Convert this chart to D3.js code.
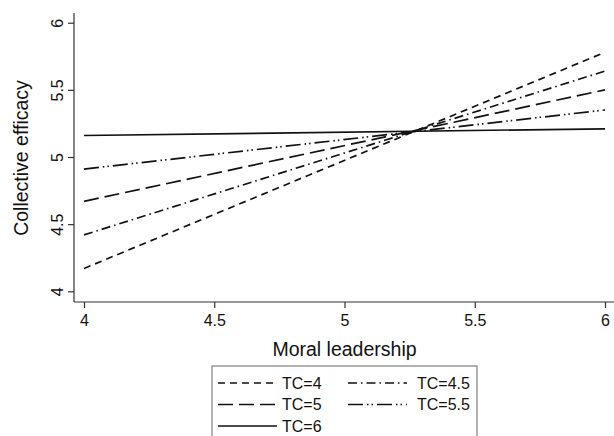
<!DOCTYPE html>
<html><head><meta charset="utf-8">
<script src="https://cdn.jsdelivr.net/npm/d3@7"></script>
<style>body{margin:0;background:#fff}svg{display:block}text{font-family:"Liberation Sans",Arial,sans-serif;fill:#111}</style>
</head><body>
<script>
const series = ["TC=4","TC=4.5","TC=5","TC=5.5","TC=6"];
const xValues = [4, 6];
const yAt4 = [4.17, 4.42, 4.67, 4.91, 5.16];
const yAt6 = [5.78, 5.64, 5.50, 5.35, 5.21];
const xTicks = [4, 4.5, 5, 5.5, 6];
const yTicks = [4, 4.5, 5, 5.5, 6];
const dashes = ["7,5", "9,4,1.5,4", "15,6", "15,4,1.5,3,1.5,4", null];

const W = 614, H = 436;
const svg = d3.select("body").append("svg").attr("width", W).attr("height", H);
const x = d3.scaleLinear().domain([4, 6]).range([84, 605]);
const y = d3.scaleLinear().domain([4, 6]).range([291.3, 22.7]);

// axes
const xAxis = svg.append("g").attr("transform", "translate(0,302)")
  .call(d3.axisBottom(x).tickValues(xTicks).tickFormat(d3.format("~g")).tickSizeOuter(0).tickSize(6).tickPadding(7));
xAxis.select(".domain").attr("d", "M74,0H614");
const yAxis = svg.append("g").attr("transform", "translate(74,0)")
  .call(d3.axisLeft(y).tickValues(yTicks).tickFormat(d3.format("~g")).tickSizeOuter(0).tickSize(6));
yAxis.select(".domain").attr("d", "M0,13V302");
[xAxis, yAxis].forEach(g => {
  g.attr("font-size", 16);
  g.selectAll(".domain").attr("stroke", "#333").attr("stroke-width", 1.2);
  g.selectAll(".tick line").attr("stroke", "#333").attr("stroke-width", 1.2);
  g.selectAll("text").attr("font-size", 16).attr("fill", "#111").style("font-family", '"Liberation Sans",Arial,sans-serif');
});
yAxis.selectAll(".tick text").attr("x", null).attr("dy", null)
  .attr("text-anchor", "middle").attr("transform", "translate(-17,0) rotate(-90)").attr("dy", "0.35em");

svg.append("text").attr("x", 344.5).attr("y", 356).attr("text-anchor", "middle").attr("font-size", 19.5).text("Moral leadership");
svg.append("text").attr("transform", "translate(21,158) rotate(-90)").attr("text-anchor", "middle").attr("dy", "0.35em").attr("font-size", 19.5).text("Collective efficacy");

// lines
const line = d3.line().x(d => x(d[0])).y(d => y(d[1]));
series.forEach((s, i) => {
  svg.append("path").datum([[xValues[0], yAt4[i]], [xValues[1], yAt6[i]]])
    .attr("d", line).attr("fill", "none").attr("stroke", "#111").attr("stroke-width", 1.7)
    .attr("stroke-dasharray", dashes[i]);
});

// legend
const lg = svg.append("g");
lg.append("rect").attr("x", 212).attr("y", 366).attr("width", 265).attr("height", 80)
  .attr("fill", "#fff").attr("stroke", "#666").attr("stroke-width", 1);
series.forEach((s, i) => {
  const col = i % 2, row = Math.floor(i / 2);
  const lx = col ? 348 : 218, ty = 383 + row * 21.5;
  lg.append("line").attr("x1", lx).attr("x2", lx + 59).attr("y1", ty).attr("y2", ty)
    .attr("stroke", "#111").attr("stroke-width", 1.4).attr("stroke-dasharray", dashes[i]);
  lg.append("text").attr("x", col ? 417 : 282).attr("y", ty).attr("dy", "0.35em").attr("font-size", 16).text(s);
});
</script>
</body></html>
